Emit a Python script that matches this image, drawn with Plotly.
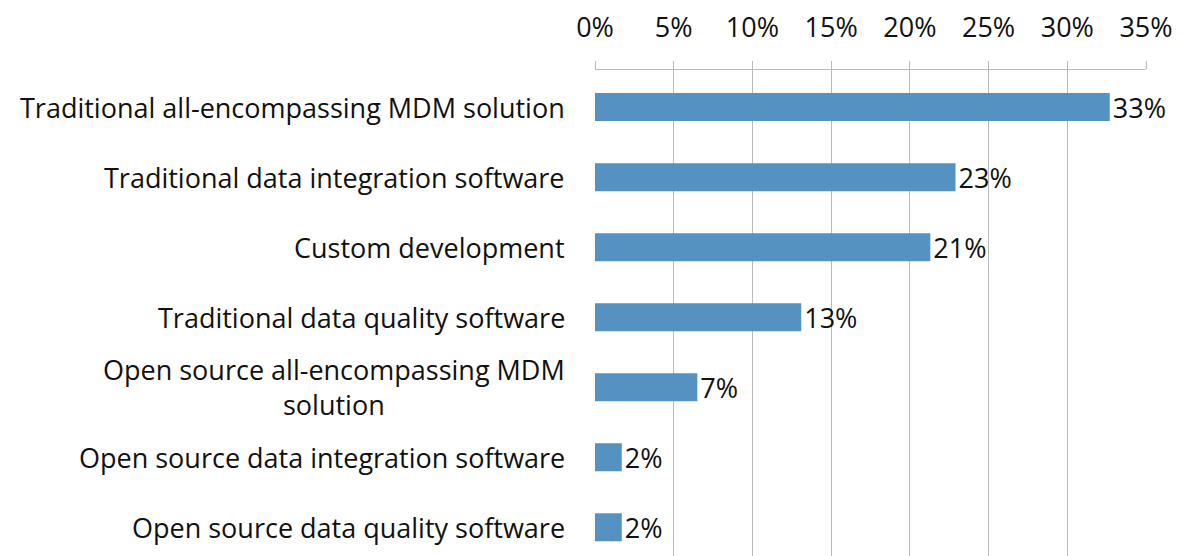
import plotly.graph_objects as go

categories = [
    "Traditional all-encompassing MDM solution",
    "Traditional data integration software",
    "Custom development",
    "Traditional data quality software",
    "Open source all-encompassing MDM<br>solution",
    "Open source data integration software",
    "Open source data quality software",
]
values = [32.7, 22.9, 21.3, 13.1, 6.5, 1.7, 1.7]
value_labels = ["33%", "23%", "21%", "13%", "7%", "2%", "2%"]
tick_vals = [0, 5, 10, 15, 20, 25, 30, 35]
tick_text = ["0%", "5%", "10%", "15%", "20%", "25%", "30%", "35%"]

FONT = "Open Sans"
SIZE = 27
positions = list(range(len(categories)))

fig = go.Figure()
fig.add_trace(
    go.Bar(
        x=values,
        y=positions,
        orientation="h",
        width=0.4,
        marker=dict(color="#5592C2", line=dict(width=0)),
        text=value_labels,
        textposition="outside",
        constraintext="none",
        textfont=dict(family=FONT, size=SIZE, color="#111111"),
        cliponaxis=False,
    )
)

# category labels, centred lines like the original
for pos, label in zip(positions, categories):
    fig.add_annotation(
        x=0, xref="paper", y=pos, yref="y",
        text=label, showarrow=False,
        xanchor="right", yanchor="middle", align="center",
        xshift=-28,
        font=dict(family=FONT, size=SIZE, color="#111111"),
    )

fig.update_xaxes(
    side="top",
    range=[0, 35],
    tickvals=tick_vals,
    ticktext=tick_text,
    showgrid=True,
    gridcolor="#BABABA",
    gridwidth=1.3,
    showline=True,
    linecolor="#BABABA",
    linewidth=1.3,
    ticks="outside",
    ticklen=8,
    tickcolor="#BABABA",
    ticklabelstandoff=13,
    tickfont=dict(family=FONT, size=SIZE, color="#111111"),
    zeroline=False,
)
fig.update_yaxes(
    range=[6.41, -0.53],
    showticklabels=False,
    showgrid=False,
    zeroline=False,
    showline=False,
)

# page body has an 8px margin, so the figure is drawn 8px smaller / offset
fig.update_layout(
    width=1175,
    height=548,
    margin=dict(l=587, r=37, t=62, b=0),
    paper_bgcolor="white",
    plot_bgcolor="white",
    showlegend=False,
)

fig.write_html("out.html")
